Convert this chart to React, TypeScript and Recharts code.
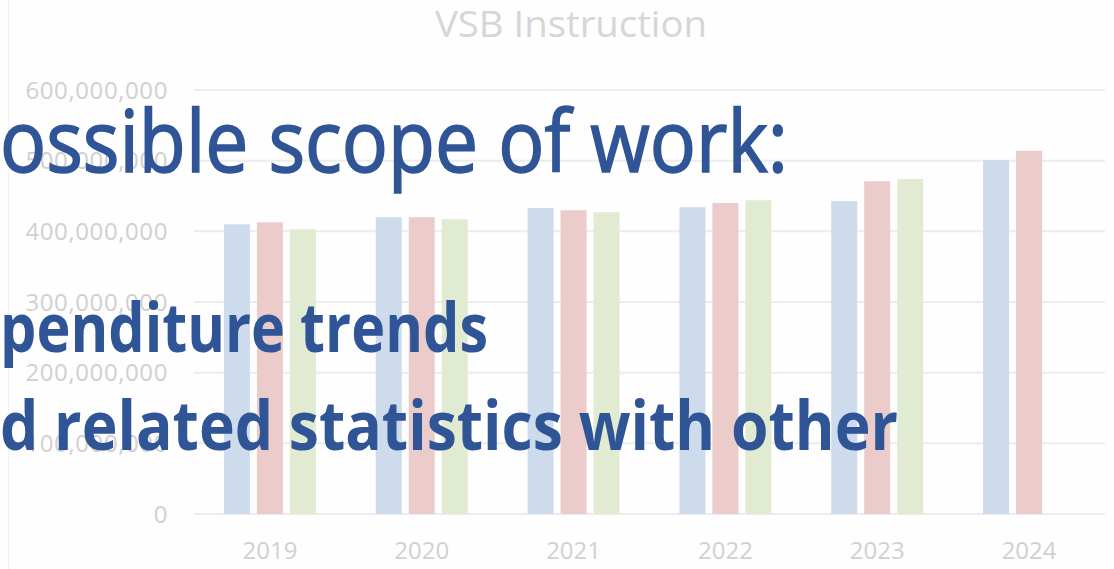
import React from 'react';
import { BarChart, Bar, XAxis, YAxis, CartesianGrid } from 'recharts';

const years = ['2019', '2020', '2021', '2022', '2023', '2024'];
const seriesA = [410000000, 420000000, 433000000, 434000000, 443000000, 501000000];
const seriesB = [413000000, 420000000, 430000000, 440000000, 471000000, 514000000];
const seriesC = [403000000, 417000000, 427000000, 444000000, 474000000, null];
const yTicks = [0, 100000000, 200000000, 300000000, 400000000, 500000000, 600000000];

const data = years.map((y, i) => ({ year: y, a: seriesA[i], b: seriesB[i], c: seriesC[i] }));

const tickStyle = { fill: '#d0d0d0', fontSize: 24, fontFamily: '"Open Sans", sans-serif' };

export default function App() {
  return (
    <div style={{ position: 'absolute', left: 0, top: 0, width: 1114, height: 569, background: '#fefefe', overflow: 'hidden' }}>
      <div style={{ position: 'absolute', left: 8, top: 0, width: 0, height: 569, borderLeft: '1px solid #f2f2f2' }} />
      <BarChart
        width={1114}
        height={569}
        data={data}
        margin={{ top: 90, right: 9, bottom: 0, left: 0 }}
        barCategoryGap="19.7%"
        barGap={7}
      >
        <CartesianGrid vertical={false} stroke="#ececec" strokeWidth={2} />
        <XAxis
          dataKey="year"
          height={55}
          axisLine={false}
          tickLine={false}
          tickMargin={22}
          tick={{ ...tickStyle }}
        />
        <YAxis
          width={194}
          domain={[0, 600000000]}
          ticks={yTicks}
          axisLine={false}
          tickLine={false}
          tickMargin={20}
          interval={0}
          tickFormatter={(v: number) => v.toLocaleString('en-US')}
          tick={{ ...tickStyle, letterSpacing: 0.6 }}
        />
        <Bar dataKey="a" fill="#cddbec" isAnimationActive={false} />
        <Bar dataKey="b" fill="#eccbcb" isAnimationActive={false} />
        <Bar dataKey="c" fill="#e1ebd2" isAnimationActive={false} />
      </BarChart>
      <svg width={1114} height={569} style={{ position: 'absolute', left: 0, top: 0, pointerEvents: 'none' }}>
        <text x={571} y={37} textAnchor="middle" fontFamily='"Open Sans", sans-serif' fontSize={36} fill="#d6d6d6" textLength={272} lengthAdjust="spacingAndGlyphs">VSB Instruction</text>
        <text x={0} y={172} fontFamily='"Open Sans", sans-serif' fontSize={86} fill="#2f5597" stroke="#2f5597" strokeWidth={1.6} textLength={788} lengthAdjust="spacingAndGlyphs">ossible scope of work:</text>
        <text x={0} y={352} fontFamily='"Open Sans", sans-serif' fontWeight={700} fontSize={68} fill="#2f5597" textLength={488} lengthAdjust="spacingAndGlyphs">penditure trends</text>
        <text x={0} y={450} fontFamily='"Open Sans", sans-serif' fontWeight={700} fontSize={68} fill="#2f5597" textLength={898} lengthAdjust="spacingAndGlyphs">d related statistics with other</text>
      </svg>
    </div>
  );
}
